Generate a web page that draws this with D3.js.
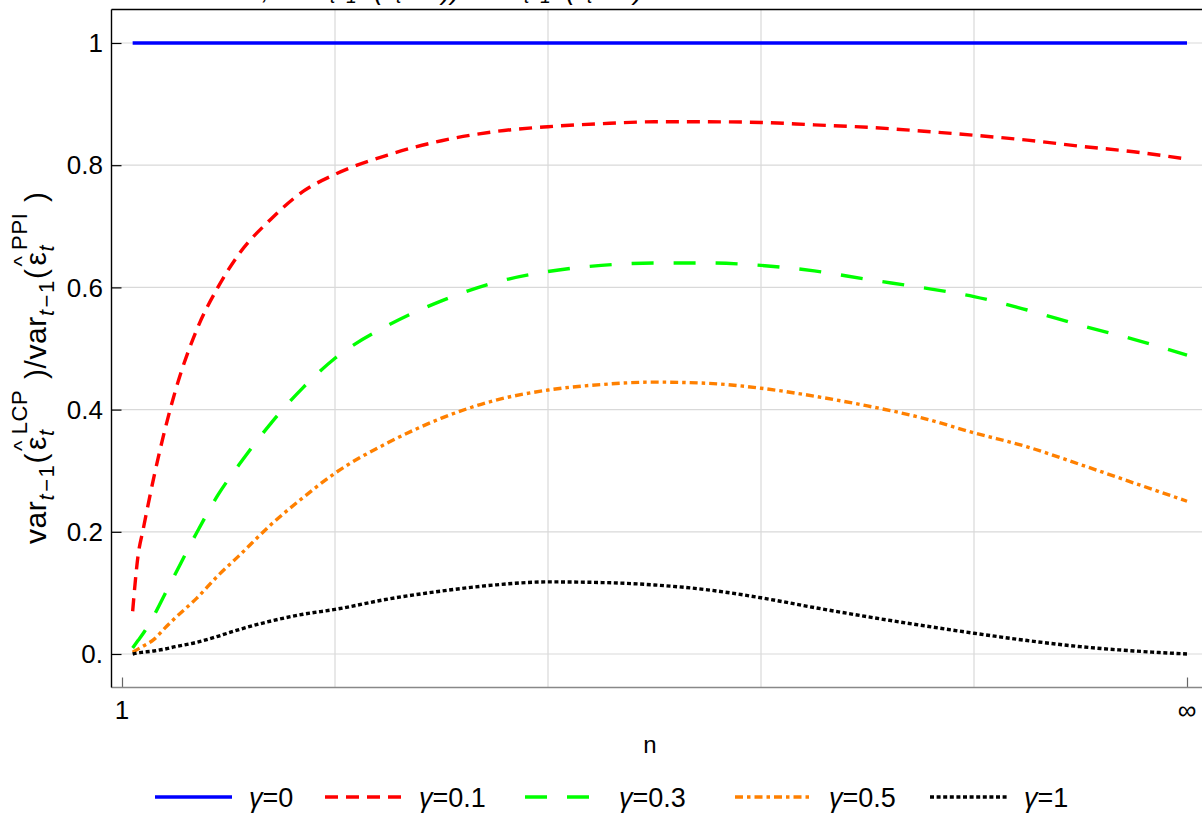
<!DOCTYPE html>
<html>
<head>
<meta charset="utf-8">
<script src="https://cdn.jsdelivr.net/npm/d3@7"></script>
<style>
  body { margin: 0; background: #fff; }
  svg { display: block; }
  text { font-family: "Liberation Sans", Arial, sans-serif; fill: #000; }
</style>
</head>
<body>
<script>
// ---- data (n mapped to t in [0,1], 1 -> 0, infinity -> 1) ----
var tValues = [0.01, 0.015, 0.02, 0.03, 0.04, 0.05, 0.07, 0.09, 0.11, 0.14, 0.17, 0.2, 0.25, 0.3,
  0.35, 0.4, 0.45, 0.5, 0.55, 0.6, 0.65, 0.7, 0.75, 0.8, 0.85, 0.9, 0.95, 1.0];
var gamma0 = [1, 1, 1, 1, 1, 1, 1, 1, 1, 1, 1, 1, 1, 1,
  1, 1, 1, 1, 1, 1, 1, 1, 1, 1, 1, 1, 1, 1];
var gamma01 = [0.07, 0.16, 0.205, 0.29, 0.365, 0.43, 0.53, 0.60, 0.655, 0.712, 0.757, 0.785, 0.817, 0.84,
  0.855, 0.863, 0.868, 0.871, 0.871, 0.870, 0.866, 0.862, 0.856, 0.849, 0.841, 0.831, 0.822, 0.81];
var gamma03 = [0.01, 0.022, 0.034, 0.063, 0.097, 0.131, 0.198, 0.26, 0.31, 0.378, 0.436, 0.484, 0.538, 0.578,
  0.608, 0.626, 0.636, 0.640, 0.640, 0.636, 0.627, 0.613, 0.60, 0.585, 0.563, 0.538, 0.515, 0.489];
var gamma05 = [0.003, 0.008, 0.013, 0.024, 0.042, 0.059, 0.091, 0.128, 0.161, 0.212, 0.256, 0.296, 0.346, 0.386,
  0.415, 0.432, 0.441, 0.445, 0.443, 0.435, 0.422, 0.406, 0.387, 0.362, 0.339, 0.31, 0.28, 0.25];
var gamma1 = [0.0, 0.002, 0.003, 0.005, 0.008, 0.012, 0.019, 0.029, 0.04, 0.054, 0.065, 0.073, 0.09, 0.103,
  0.113, 0.118, 0.117, 0.113, 0.105, 0.092, 0.076, 0.061, 0.047, 0.034, 0.022, 0.012, 0.005, 0.0];

var seriesNames = ["0", "0.1", "0.3", "0.5", "1"];
var seriesValues = [gamma0, gamma01, gamma03, gamma05, gamma1];
var yTicks = [0, 0.2, 0.4, 0.6, 0.8, 1];
var yTickLabels = ["0.", "0.2", "0.4", "0.6", "0.8", "1"];
var xGrid = [0.2, 0.4, 0.6, 0.8];
var xTicks = [0, 1];
var xTickLabels = ["1", "\u221E"];

// ---- styles ----
var colors = ["#0000ff", "#ff0000", "#00ff00", "#ff8000", "#000000"];
var dashes = [null, "13,8", "22,20", "8,4,3.5,4", "4,2.6"];
var legendX = [155, 325, 525, 735, 930]; // where each legend swatch starts

var W = 1202, H = 814;
var canvas = d3.select("body").append("svg").attr("width", W).attr("height", H);

var xScale = d3.scaleLinear().domain([0, 1]).range([122, 1187]);
var yScale = d3.scaleLinear().domain([0, 1]).range([654, 43]);
var axisX = 111.5, axisY = 687.5, topY = 9.5;

// gridlines
canvas.append("g").selectAll("line").data(xGrid).enter().append("line")
  .attr("x1", function(d) { return xScale(d); }).attr("x2", function(d) { return xScale(d); })
  .attr("y1", topY).attr("y2", axisY)
  .attr("stroke", "#d9d9d9").attr("stroke-width", 1.2);
canvas.append("g").selectAll("line").data(yTicks).enter().append("line")
  .attr("x1", axisX).attr("x2", W)
  .attr("y1", function(d) { return yScale(d); }).attr("y2", function(d) { return yScale(d); })
  .attr("stroke", "#d9d9d9").attr("stroke-width", 1.2);

// bottom axis (grey) with inward ticks
var xAxis = d3.axisTop(xScale).tickValues(xTicks).tickSize(10).tickFormat("");
var gx = canvas.append("g").attr("transform", "translate(0," + axisY + ")").call(xAxis);
gx.select(".domain").remove();
gx.selectAll(".tick line").attr("stroke", "#666").attr("stroke-width", 1.2);
canvas.append("line").attr("x1", axisX).attr("x2", W).attr("y1", axisY).attr("y2", axisY)
  .attr("stroke", "#888").attr("stroke-width", 1.6);
canvas.append("g").selectAll("text").data(xTicks).enter().append("text")
  .attr("x", function(d) { return xScale(d); }).attr("y", 719)
  .attr("text-anchor", "middle").attr("font-size", "26px")
  .text(function(d, i) { return xTickLabels[i]; });

// left axis (black) with inward ticks
var yAxis = d3.axisRight(yScale).tickValues(yTicks).tickSize(10).tickFormat("");
var gy = canvas.append("g").attr("transform", "translate(" + axisX + ",0)").call(yAxis);
gy.select(".domain").remove();
gy.selectAll(".tick line").attr("stroke", "#000").attr("stroke-width", 1.2);
canvas.append("line").attr("x1", axisX).attr("x2", axisX).attr("y1", topY).attr("y2", axisY)
  .attr("stroke", "#000").attr("stroke-width", 1.4);
canvas.append("line").attr("x1", axisX).attr("x2", W).attr("y1", topY).attr("y2", topY)
  .attr("stroke", "#000").attr("stroke-width", 1.4);
canvas.append("g").selectAll("text").data(yTicks).enter().append("text")
  .attr("x", 103).attr("y", function(d) { return yScale(d); })
  .attr("dy", "0.35em").attr("text-anchor", "end").attr("font-size", "26px")
  .text(function(d, i) { return yTickLabels[i]; });

// curves
var line = d3.line()
  .x(function(d, i) { return xScale(tValues[i]); })
  .y(function(d) { return yScale(d); })
  .curve(d3.curveMonotoneX);

canvas.append("g").selectAll("path").data(seriesValues).enter().append("path")
  .attr("d", function(d) { return line(d); })
  .attr("fill", "none")
  .attr("stroke", function(d, i) { return colors[i]; })
  .attr("stroke-width", function(d, i) { return i == 0 ? 3.6 : 3.4; })
  .attr("stroke-dasharray", function(d, i) { return dashes[i]; });

// axis labels
canvas.append("text").attr("x", 650).attr("y", 753).attr("text-anchor", "middle")
  .attr("font-size", "24px").text("n");

// rotated y label: var_{t-1}(eps_t^LCP)/var_{t-1}(eps_t^PPI)
var yl = canvas.append("text").attr("font-size", "30px")
  .attr("transform", "translate(46,544) rotate(-90)");
function ratioPart(sup, first) {
  // every piece returns to the main baseline before the next part
  yl.append("tspan").attr("dy", 0).text(first ? "var" : ")/var");
  yl.append("tspan").attr("font-size", "22px").attr("font-style", "italic").attr("dy", 8).text("t");
  yl.append("tspan").attr("font-size", "22px").attr("dx", 2).text("\u2212");
  yl.append("tspan").attr("font-size", "22px").attr("dx", 1).text("1");
  yl.append("tspan").attr("dy", -8).attr("dx", 1).text("(");
  yl.append("tspan").attr("font-size", "22px").attr("dy", -17).attr("dx", 2).text("^");
  yl.append("tspan").attr("dy", 17).attr("dx", -10).text("\u03B5");
  yl.append("tspan").attr("font-size", "22px").attr("font-style", "italic").attr("dy", 8).text("t");
  yl.append("tspan").attr("font-size", "22px").attr("dx", -5).attr("dy", -27).text(sup);
  yl.append("tspan").attr("dy", 19).attr("dx", 4).text("\u2009");
}
ratioPart("LCP", true);
ratioPart("PPI", false);
yl.append("tspan").text(")");

// stretch the label to the length it has in the picture
var ylLen = yl.node().getComputedTextLength();
if (ylLen < 352) yl.attr("textLength", 352).attr("lengthAdjust", "spacing");

// cut-off title at the very top (only the lower edge shows)
var tt = canvas.append("text").attr("font-family", "Liberation Serif, serif").attr("font-style", "italic")
  .attr("font-size", "27px");
tt.append("tspan").attr("x", 262).attr("y", -1).text(",");
tt.append("tspan").attr("x", 290).attr("y", -1).text("var");
tt.append("tspan").attr("x", 330).attr("y", 3).attr("font-size", "19px").text("t\u22121");
tt.append("tspan").attr("x", 374).attr("y", -1).text("(\u03B5");
tt.append("tspan").attr("x", 396).attr("y", 3).attr("font-size", "19px").text("t");
tt.append("tspan").attr("x", 442).attr("y", -1).text("))/var");
tt.append("tspan").attr("x", 524).attr("y", 3).attr("font-size", "19px").text("t\u22121");
tt.append("tspan").attr("x", 566).attr("y", -1).text("(\u03B5");
tt.append("tspan").attr("x", 587).attr("y", 3).attr("font-size", "19px").text("t");
tt.append("tspan").attr("x", 634).attr("y", -1).text(")");

// legend
var legend = canvas.append("g").selectAll("g").data(seriesNames).enter().append("g")
  .attr("transform", function(d, i) { return "translate(" + legendX[i] + ",797)"; });
legend.append("line").attr("x1", 0).attr("x2", 77).attr("y1", 0).attr("y2", 0)
  .attr("stroke", function(d, i) { return colors[i]; })
  .attr("stroke-width", function(d, i) { return i == 0 ? 3.6 : 3.4; })
  .attr("stroke-dasharray", function(d, i) { return dashes[i]; });
var lt = legend.append("text").attr("x", 94).attr("y", 10).attr("font-size", "27px");
lt.append("tspan").attr("font-style", "italic").text("\u03B3");
lt.append("tspan").text(function(d) { return "=" + d; });
</script>
</body>
</html>
